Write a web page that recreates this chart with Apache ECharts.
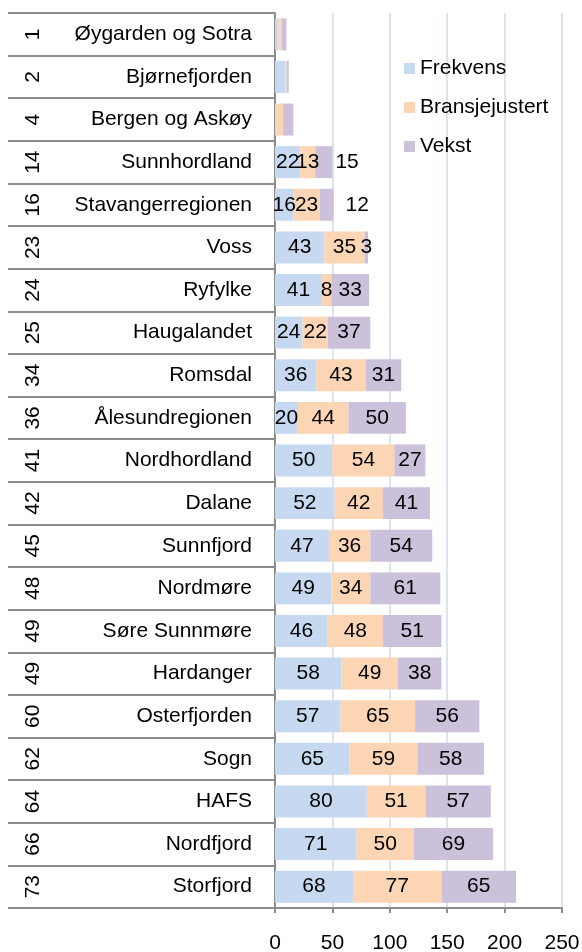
<!DOCTYPE html>
<html>
<head>
<meta charset="utf-8">
<script src="https://cdn.jsdelivr.net/npm/echarts@6/dist/echarts.min.js"></script>
<style>
  html, body { margin: 0; padding: 0; background: #fff; }
  #chart { width: 582px; height: 952px; }
</style>
</head>
<body>
<div id="chart"></div>
<script>
var ranks = [1, 2, 4, 14, 16, 23, 24, 25, 34, 36, 41, 42, 45, 48, 49, 49, 60, 62, 64, 66, 73];
var regions = ["Øygarden og Sotra", "Bjørnefjorden", "Bergen og Askøy", "Sunnhordland",
  "Stavangerregionen", "Voss", "Ryfylke", "Haugalandet", "Romsdal", "Ålesundregionen",
  "Nordhordland", "Dalane", "Sunnfjord", "Nordmøre", "Søre Sunnmøre", "Hardanger",
  "Osterfjorden", "Sogn", "HAFS", "Nordfjord", "Storfjord"];
var frekvens = [3, 9, 1, 22, 16, 43, 41, 24, 36, 20, 50, 52, 47, 49, 46, 58, 57, 65, 80, 71, 68];
var bransje = [3, 1, 6, 13, 23, 35, 8, 22, 43, 44, 54, 42, 36, 34, 48, 49, 65, 59, 51, 50, 77];
var vekst = [4, 2, 9, 15, 12, 3, 33, 37, 31, 50, 27, 41, 54, 61, 51, 38, 56, 58, 57, 69, 65];
var xTicks = [0, 50, 100, 150, 200, 250];

var FONT = "'Liberation Sans', Arial, sans-serif";
var FS = 21;
var GRAY = "#8c8c8c";

// the three top rows carry no data labels in the original
function items(values, outside) {
  return values.map(function (v, i) {
    var it = { value: v, label: { show: i >= 3 } };
    if (outside && outside[i] !== undefined) {
      it.label.position = "right";
      it.label.distance = outside[i];
    }
    return it;
  });
}

function barSeries(name, values, color, outside) {
  return {
    name: name,
    type: "bar",
    stack: "total",
    barWidth: "75%",
    itemStyle: { color: color },
    label: {
      show: true,
      position: "inside",
      color: "#000",
      fontSize: FS,
      fontFamily: FONT
    },
    data: items(values, outside)
  };
}

var chart = echarts.init(document.getElementById("chart"));
var option = {
  animation: false,
  textStyle: { fontFamily: FONT },
  legend: {
    orient: "vertical",
    left: 399,
    top: 53,
    itemWidth: 11,
    itemHeight: 11,
    itemGap: 18,
    icon: "rect",
    textStyle: { fontSize: FS, color: "#000", fontFamily: FONT },
    data: ["Frekvens", "Bransjejustert", "Vekst"]
  },
  grid: { left: 275, right: 20, top: 13, bottom: 44, containLabel: false, outerBoundsMode: "none" },
  xAxis: {
    type: "value",
    min: 0,
    max: 250,
    interval: 50,
    axisLine: { show: true, lineStyle: { color: GRAY, width: 2 } },
    axisTick: { show: true, length: 5, lineStyle: { color: GRAY, width: 2 } },
    axisLabel: {
      margin: 25, fontSize: FS, color: "#000", fontFamily: FONT,
      formatter: function (v) { return xTicks.indexOf(v) >= 0 ? String(v) : ""; }
    },
    splitLine: { show: true, lineStyle: { color: "#dbe5f1", width: 2 } }
  },
  yAxis: [
    {
      type: "category",
      inverse: true,
      data: regions,
      axisLine: { show: true, lineStyle: { color: GRAY, width: 2 } },
      axisTick: { show: true, length: 267, lineStyle: { color: GRAY, width: 2 } },
      axisLabel: { margin: 23, fontSize: FS, color: "#000", fontFamily: FONT }
    },
    {
      type: "category",
      inverse: true,
      position: "left",
      offset: 242,
      data: regions,
      axisLine: { show: false },
      axisTick: { show: false },
      axisLabel: {
        margin: 0, rotate: 90, align: "center", verticalAlign: "middle",
        fontSize: FS, color: "#000", fontFamily: FONT,
        formatter: function (v, i) { return String(ranks[i]); }
      }
    }
  ],
  series: [
    barSeries("Frekvens", frekvens, "#c6d9f1"),
    barSeries("Bransjejustert", bransje, "#fcd5b5"),
    barSeries("Vekst", vekst, "#ccc1da", { 3: 3, 4: 12 })
  ]
};
chart.setOption(option);
</script>
</body>
</html>
